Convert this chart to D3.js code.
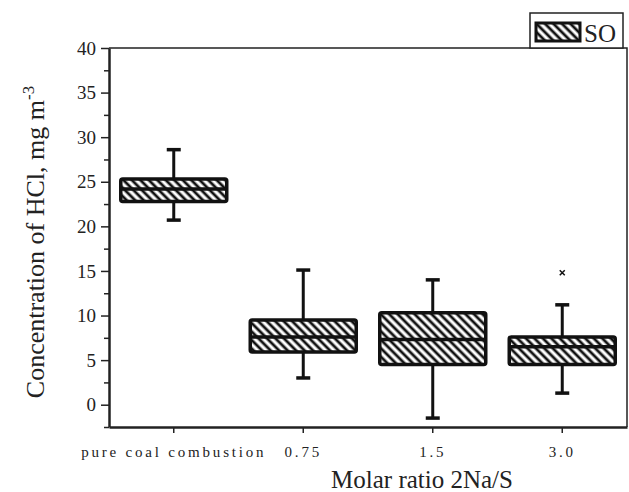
<!DOCTYPE html>
<html>
<head>
<meta charset="utf-8">
<script src="https://cdn.jsdelivr.net/npm/d3@7"></script>
<style>
  body { margin: 0; background: #fff; }
  text { fill: #222; }
</style>
</head>
<body>
<svg id="chart" width="629" height="492"></svg>
<script>
// data
const categories = ["pure coal combustion", "0.75", "1.5", "3.0"];
const whiskerLow  = [20.7, 3.0, -1.5, 1.3];
const q1          = [22.8, 5.9, 4.5, 4.5];
const median      = [24.2, 7.6, 7.3, 6.5];
const q3          = [25.3, 9.5, 10.3, 7.6];
const whiskerHigh = [28.6, 15.1, 14.0, 11.2];
const outliers    = [[], [], [], [14.8]];
const yTicks = [0, 5, 10, 15, 20, 25, 30, 35, 40];
const seriesName = "SO";

var svg = d3.select("#chart"),
    margin = { top: 48, right: 2, bottom: 65, left: 109 },
    width = +svg.attr("width") - margin.left - margin.right,
    height = +svg.attr("height") - margin.top - margin.bottom;

var g = svg.append("g").attr("transform", `translate(${margin.left},${margin.top})`);

const x = d3.scaleBand().domain(categories).range([0, width]);
const y = d3.scaleLinear().domain([-2.5, 40]).range([height, 0]);

// hatch pattern "\\\\"
var defs = svg.append("defs");
defs.append("pattern")
    .attr("id", "hatch")
    .attr("patternUnits", "userSpaceOnUse")
    .attr("width", 6).attr("height", 6)
    .attr("patternTransform", "rotate(-45)")
  .append("line")
    .attr("x1", 3).attr("y1", 0).attr("x2", 3).attr("y2", 6)
    .attr("stroke", "#111").attr("stroke-width", 2.8);

// frame (top + right)
g.append("path")
  .attr("d", `M0,0H${width}V${height}`)
  .attr("fill", "none").attr("stroke", "#222").attr("stroke-width", 1.5);

// y axis with minor ticks
var yMinor = d3.range(-2.5, 40, 5);
g.append("g")
  .call(d3.axisLeft(y).tickValues(yMinor).tickSize(5).tickFormat(""))
  .call(a => a.select(".domain").remove())
  .selectAll("line").attr("stroke", "#222").attr("stroke-width", 1.5);

var yAxis = g.append("g")
  .call(d3.axisLeft(y).tickValues(yTicks).tickSize(8).tickPadding(5).tickSizeOuter(0));
yAxis.select(".domain").attr("stroke", "#222").attr("stroke-width", 2.5);
yAxis.selectAll("line").attr("stroke", "#222").attr("stroke-width", 1.5);
yAxis.selectAll("text")
  .style("font-family", "Liberation Serif, serif").style("font-size", "19px").attr("fill", "#333");

// x axis
var xAxis = g.append("g")
  .attr("transform", `translate(0,${height})`)
  .call(d3.axisBottom(x).tickSize(6).tickPadding(13).tickSizeOuter(0));
xAxis.select(".domain").attr("stroke", "#222").attr("stroke-width", 2.5);
xAxis.selectAll("line").attr("stroke", "#222").attr("stroke-width", 1.5);
xAxis.selectAll("text")
  .style("font-family", "Liberation Serif, serif").style("font-size", "15px")
  .style("letter-spacing", "2.8px").attr("fill", "#333");

// boxes
const boxW = 106, capW = 14;
var boxes = g.selectAll(".box")
  .data(categories.map((c, i) => ({ c, lo: whiskerLow[i], q1: q1[i], med: median[i], q3: q3[i], hi: whiskerHigh[i], out: outliers[i] })))
  .enter().append("g")
    .attr("class", "box")
    .attr("transform", d => `translate(${x(d.c) + x.bandwidth() / 2},0)`);

boxes.append("line")
  .attr("y1", d => y(d.hi)).attr("y2", d => y(d.q3))
  .attr("stroke", "#111").attr("stroke-width", 3);
boxes.append("line")
  .attr("y1", d => y(d.q1)).attr("y2", d => y(d.lo))
  .attr("stroke", "#111").attr("stroke-width", 3);
boxes.append("line")
  .attr("x1", -capW / 2).attr("x2", capW / 2)
  .attr("y1", d => y(d.hi)).attr("y2", d => y(d.hi))
  .attr("stroke", "#111").attr("stroke-width", 3.5);
boxes.append("line")
  .attr("x1", -capW / 2).attr("x2", capW / 2)
  .attr("y1", d => y(d.lo)).attr("y2", d => y(d.lo))
  .attr("stroke", "#111").attr("stroke-width", 3.5);

boxes.append("rect")
  .attr("x", -boxW / 2).attr("width", boxW)
  .attr("y", d => y(d.q3)).attr("height", d => y(d.q1) - y(d.q3))
  .attr("rx", 2)
  .attr("fill", "url(#hatch)").attr("stroke", "#111").attr("stroke-width", 3.5);
boxes.append("line")
  .attr("x1", -boxW / 2).attr("x2", boxW / 2)
  .attr("y1", d => y(d.med)).attr("y2", d => y(d.med))
  .attr("stroke", "#111").attr("stroke-width", 3.5);

boxes.selectAll(".out")
  .data(d => d.out)
  .enter().append("path")
    .attr("class", "out")
    .attr("d", v => `M-2.5,${y(v) - 2.5}L2.5,${y(v) + 2.5}M2.5,${y(v) - 2.5}L-2.5,${y(v) + 2.5}`)
    .attr("stroke", "#111").attr("stroke-width", 1.5);

// axis titles
svg.append("text")
  .attr("x", 422).attr("y", 488)
  .attr("text-anchor", "middle")
  .style("font-family", "Liberation Serif, serif").style("font-size", "25px")
  .text("Molar ratio 2Na/S");

var yl = svg.append("text")
  .attr("transform", "translate(44,242) rotate(-90)")
  .attr("text-anchor", "middle")
  .style("font-family", "Liberation Serif, serif").style("font-size", "26px");
yl.append("tspan").text("Concentration of HCl,  mg m");
yl.append("tspan").attr("dy", -10).style("font-size", "17px").text("-3");

// legend
var lg = svg.append("g").attr("transform", "translate(530,13)");
lg.append("rect").attr("width", 93).attr("height", 35)
  .attr("fill", "#fff").attr("stroke", "#222").attr("stroke-width", 1.5);
lg.append("rect").attr("x", 6).attr("y", 10).attr("width", 44).attr("height", 18)
  .attr("fill", "url(#hatch)").attr("stroke", "#111").attr("stroke-width", 3);
lg.append("text").attr("x", 54).attr("y", 29)
  .style("font-family", "Liberation Serif, serif").style("font-size", "25px")
  .text(seriesName);
</script>
</body>
</html>
